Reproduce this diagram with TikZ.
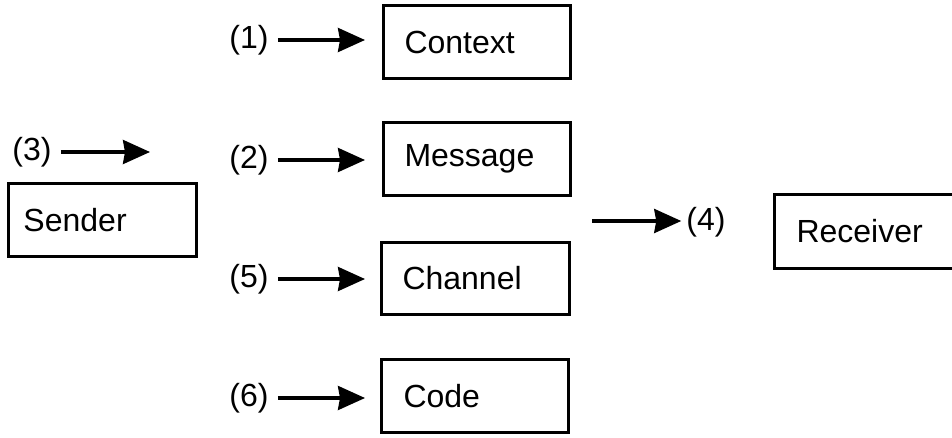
\documentclass[tikz,border=0pt]{standalone}
\usepackage{fontspec}
\setmainfont{Liberation Sans}
\usetikzlibrary{arrows.meta}
\begin{document}
\begin{tikzpicture}[x=1pt,y=-1pt,
  every node/.style={font=\fontsize{32}{38}\selectfont},
  box/.style={draw, line width=3pt, inner xsep=0pt, inner ysep=0pt, anchor=north west, align=left},
  lbl/.style={inner sep=0pt},
  arr/.style={line width=3.2pt, -{Stealth[length=27pt,width=24pt,inset=2pt]}}]
\useasboundingbox (0,0) rectangle (952,437);
% boxes with left-aligned text
\node[box, minimum width=187pt, minimum height=73pt, text width=187pt] (ctx) at (382,4) {\hspace*{21pt}Context};
\node[box, minimum width=187pt, minimum height=73pt, text width=187pt] (msg) at (382,121) {\hspace*{21pt}Message};
\node[box, minimum width=188pt, minimum height=72pt, text width=188pt] (chn) at (380,241) {\hspace*{21pt}Channel};
\node[box, minimum width=187pt, minimum height=73pt, text width=187pt] (cod) at (380,358) {\hspace*{22pt}Code};
\node[box, minimum width=188pt, minimum height=73pt, text width=188pt] (snd) at (7,182) {\hspace*{15pt}Sender};
\node[box, minimum width=200pt, minimum height=74pt, text width=200pt] (rcv) at (773,193) {\hspace*{22pt}Receiver};
% labels
\node[lbl] (l1) at (249,40) {(1)};
\node[lbl] (l2) at (249,160) {(2)};
\node[lbl] (l5) at (249,279) {(5)};
\node[lbl] (l6) at (249,398) {(6)};
\node[lbl] (l3) at (32,152) {(3)};
\node[lbl] (l4) at (706,222) {(4)};
\coordinate (a3) at (150,152);
\coordinate (a4) at (592,221);
% arrows
\draw[arr, shorten <=9pt, shorten >=17pt] (l1.east) -- (l1.east -| ctx.west);
\draw[arr, shorten <=9pt, shorten >=17pt] (l2.east) -- (l2.east -| msg.west);
\draw[arr, shorten <=9pt, shorten >=15pt] (l5.east) -- (l5.east -| chn.west);
\draw[arr, shorten <=9pt, shorten >=15pt] (l6.east) -- (l6.east -| cod.west);
\draw[arr, shorten <=9pt] (l3.east) -- (l3.east -| a3);
\draw[arr, shorten >=5pt] (a4) -- (a4 -| l4.west);
\end{tikzpicture}
\end{document}
